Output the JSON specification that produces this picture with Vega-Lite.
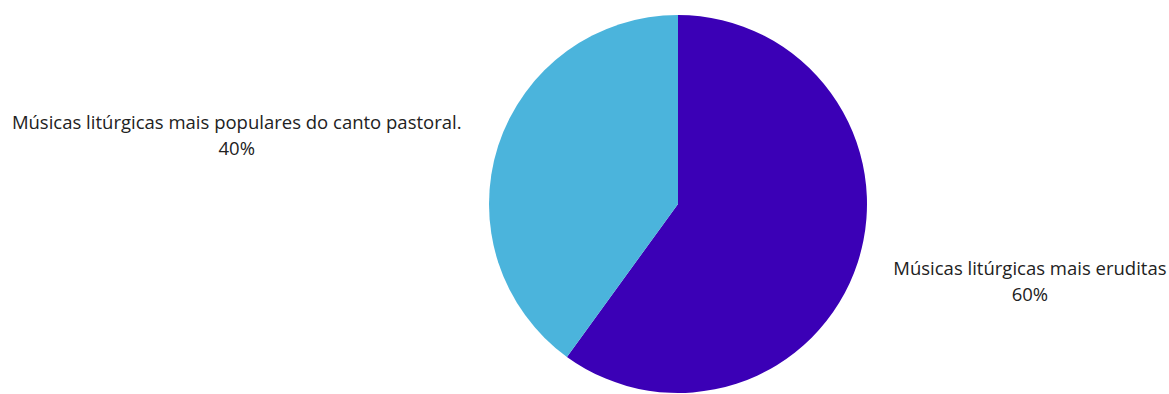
{
  "$schema": "https://vega.github.io/schema/vega-lite/v6.json",
  "autosize": "none",
  "width": 378,
  "height": 378,
  "padding": {"left": 489, "top": 15, "right": 302, "bottom": 1},
  "background": "white",
  "config": {"view": {"stroke": null}},
  "data": {
    "values": [
      {"categoria": "Músicas litúrgicas mais eruditas", "valor": 60, "rotulo": ["Músicas litúrgicas mais eruditas", "60%"]},
      {"categoria": "Músicas litúrgicas mais populares do canto pastoral.", "valor": 40, "rotulo": ["Músicas litúrgicas mais populares do canto pastoral.", "40%"]}
    ]
  },
  "encoding": {
    "theta": {"field": "valor", "type": "quantitative", "stack": true},
    "color": {
      "field": "categoria",
      "type": "nominal",
      "scale": {
        "domain": ["Músicas litúrgicas mais eruditas", "Músicas litúrgicas mais populares do canto pastoral."],
        "range": ["#3b00b6", "#4bb4dc"]
      },
      "legend": null
    }
  },
  "layer": [
    {"mark": {"type": "arc"}},
    {
      "mark": {"type": "text", "radius": 370, "dy": -49, "align": "center", "baseline": "middle", "font": "Open Sans", "fontSize": 18.5, "lineHeight": 26, "color": "#222222"},
      "encoding": {
        "color": {"value": "#222222"},
        "text": {"condition": {"test": "datum.categoria === 'Músicas litúrgicas mais eruditas'", "field": "rotulo"}, "value": ""}
      }
    },
    {
      "mark": {"type": "text", "radius": 464, "dy": 62, "align": "center", "baseline": "middle", "font": "Open Sans", "fontSize": 18.5, "lineHeight": 26, "color": "#222222"},
      "encoding": {
        "color": {"value": "#222222"},
        "text": {"condition": {"test": "datum.categoria !== 'Músicas litúrgicas mais eruditas'", "field": "rotulo"}, "value": ""}
      }
    }
  ]
}
